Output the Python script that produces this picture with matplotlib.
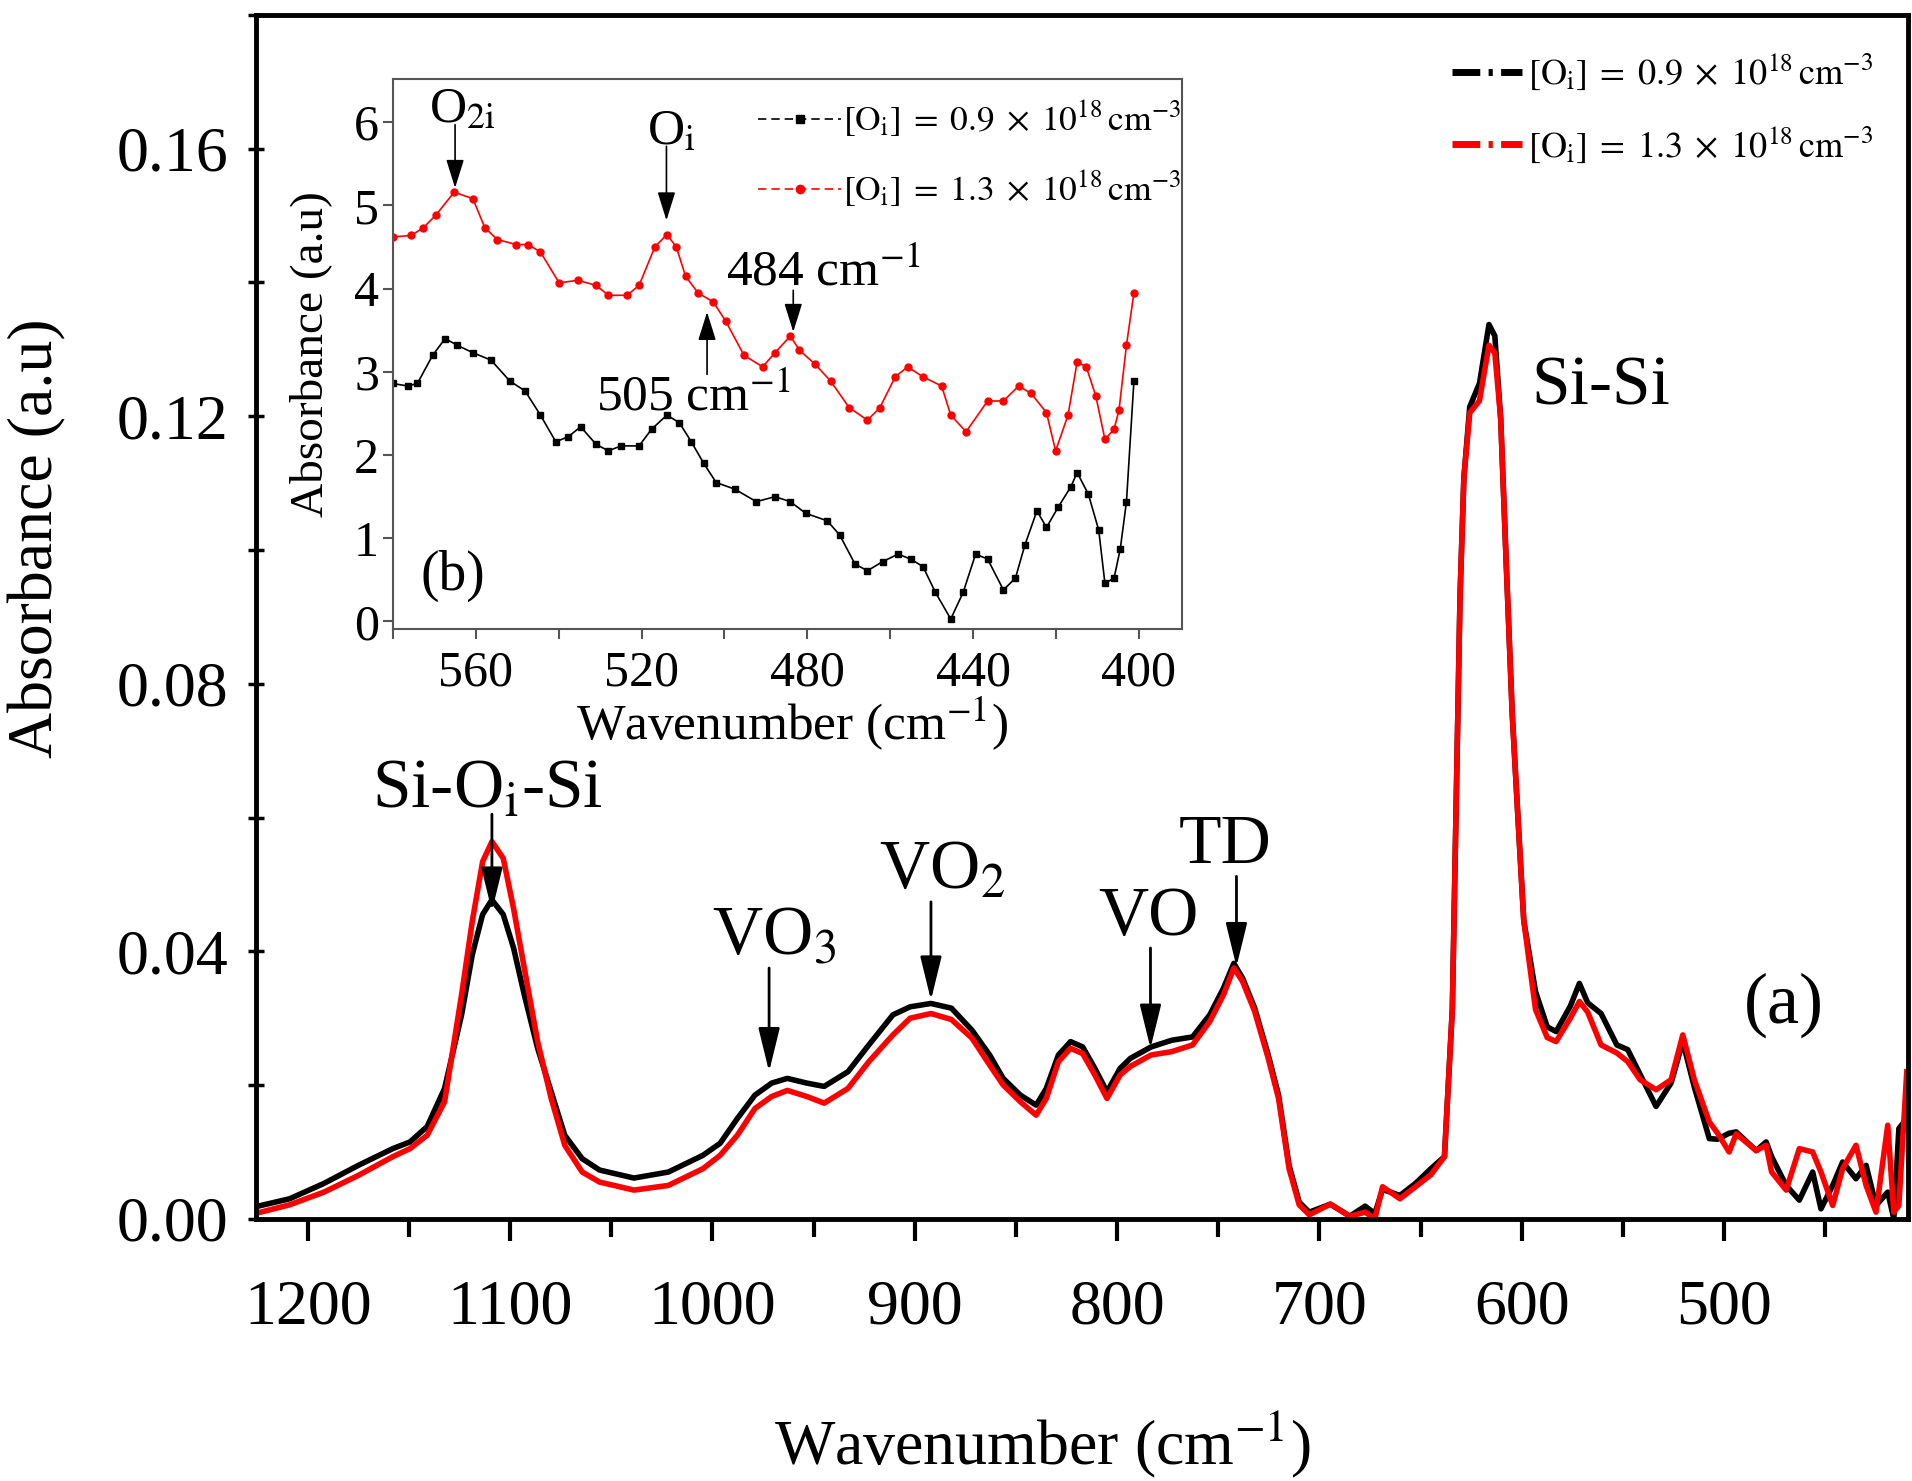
import numpy as np
import matplotlib.pyplot as plt
from matplotlib.lines import Line2D
from matplotlib.ticker import MultipleLocator, FormatStrFormatter

plt.rcParams['font.family'] = ['Liberation Serif', 'DejaVu Serif']
plt.rcParams['mathtext.fontset'] = 'stix'

# main spectrum (a): wavenumber (cm-1) and absorbance
wn = [1226, 1209, 1192, 1175, 1158, 1149.5, 1141, 1132.4, 1124, 1118.7, 1113.6, 1109,
      1103.4, 1098.3, 1093, 1086.4, 1079.7, 1073, 1064.4, 1055.8, 1038.8, 1021.8, 1004.7,
      996.2, 987.7, 979, 970.7, 963, 953.4, 944.8, 933, 922.7, 910.8, 902.3, 892, 881.9,
      871.7, 863, 856.3, 847.8, 840, 835, 829, 823, 817, 811, 805, 798.5, 793.4, 783.2,
      773, 762.7, 754.2, 747.4, 742.3, 738, 732, 725.3, 720.2, 715, 710, 705, 694.6, 685,
      677.4, 672.6, 668.8, 660.2, 652.5, 644.9, 638.2, 634.3, 632.4, 630.5, 628.6, 625.7,
      620.9, 616.2, 613.3, 610.4, 607.6, 604.7, 601.8, 599, 593.2, 587.4, 583, 576, 571.5,
      567.4, 560.8, 553, 547.6, 541.5, 533.6, 526.2, 520.4, 514.7, 507.3, 503.2, 497.5,
      494, 484.1, 479.2, 476.5, 469.3, 462.8, 456.2, 452.1, 446.3, 441.4, 434.8, 429.8,
      424.9, 419.1, 416.1, 413.6, 409.7]
abs_low = [0.0018, 0.0030, 0.0053, 0.0080, 0.0105, 0.0115, 0.0138, 0.0195, 0.0305, 0.0395,
           0.0455, 0.0477, 0.0455, 0.0405, 0.0335, 0.0255, 0.0190, 0.0125, 0.0090, 0.0073,
           0.0061, 0.0070, 0.0095, 0.0113, 0.0150, 0.0185, 0.0203, 0.0210, 0.0203, 0.0198,
           0.0220, 0.0260, 0.0305, 0.0317, 0.0322, 0.0315, 0.0282, 0.0245, 0.0210, 0.0185,
           0.0170, 0.0195, 0.0245, 0.0265, 0.0257, 0.0225, 0.0190, 0.0225, 0.0240, 0.0257,
           0.0267, 0.0272, 0.0305, 0.0345, 0.0382, 0.0360, 0.0315, 0.0245, 0.0185, 0.0080,
           0.0025, 0.0010, 0.0022, 0.0004, 0.0019, 0.0008, 0.0044, 0.0035, 0.0053, 0.0075,
           0.0093, 0.0314, 0.0622, 0.0931, 0.1108, 0.1214, 0.1249, 0.1337, 0.1320, 0.1196,
           0.0975, 0.0755, 0.0596, 0.0446, 0.0340, 0.0287, 0.0280, 0.0318, 0.0352, 0.0323,
           0.0307, 0.0260, 0.0253, 0.0216, 0.0168, 0.0203, 0.0265, 0.0197, 0.0120, 0.0119,
           0.0128, 0.0130, 0.0102, 0.0115, 0.0093, 0.0050, 0.0028, 0.0070, 0.0015, 0.0050,
           0.0085, 0.0060, 0.0080, 0.0020, 0.0040, 0.0000, 0.0135, 0.0150]
abs_high = [0.0008, 0.0021, 0.0040, 0.0065, 0.0093, 0.0105, 0.0125, 0.0175, 0.0335, 0.0445,
            0.0534, 0.0564, 0.0539, 0.0464, 0.0375, 0.0265, 0.0180, 0.0110, 0.0070, 0.0055,
            0.0043, 0.0050, 0.0075, 0.0095, 0.0125, 0.0165, 0.0183, 0.0192, 0.0183, 0.0173,
            0.0195, 0.0235, 0.0275, 0.0300, 0.0307, 0.0298, 0.0270, 0.0230, 0.0200, 0.0175,
            0.0155, 0.0180, 0.0235, 0.0255, 0.0247, 0.0215, 0.0180, 0.0215, 0.0228, 0.0245,
            0.0250, 0.0260, 0.0295, 0.0335, 0.0375, 0.0355, 0.0310, 0.0240, 0.0180, 0.0075,
            0.0021, 0.0006, 0.0022, 0.0004, 0.0010, 0.0000, 0.0048, 0.0030, 0.0048, 0.0066,
            0.0093, 0.0314, 0.0622, 0.0931, 0.1108, 0.1205, 0.1223, 0.1306, 0.1294, 0.1196,
            0.0975, 0.0755, 0.0596, 0.0446, 0.0313, 0.0271, 0.0265, 0.0300, 0.0325, 0.0309,
            0.0260, 0.0248, 0.0235, 0.0208, 0.0193, 0.0208, 0.0275, 0.0208, 0.0145, 0.0128,
            0.0100, 0.0127, 0.0102, 0.0110, 0.0070, 0.0043, 0.0105, 0.0100, 0.0070, 0.0020,
            0.0075, 0.0110, 0.0050, 0.0010, 0.0140, 0.0010, 0.0020, 0.0220]

# inset (b)
wn_b_red = [580.1, 575.6, 572.7, 569.7, 565.2, 560.7, 557.8, 554.8, 550.3, 547.4, 544.4,
            539.9, 535.4, 531, 528, 523.5, 520.6, 516.8, 513.9, 511.6, 509.4, 506.4, 502.7,
            499.7, 495.3, 490.8, 487.8, 484.1, 481.9, 478.1, 474.4, 469.9, 465.5, 462.5,
            458.8, 455.8, 452.1, 447.6, 445.4, 441.7, 436.5, 432.7, 429, 426, 422.3, 420.1,
            417.1, 414.9, 412.7, 410.4, 408.2, 406, 404.8, 403, 401.2]
ab_b_red = [4.62, 4.64, 4.73, 4.88, 5.16, 5.08, 4.73, 4.59, 4.53, 4.53, 4.44, 4.07, 4.10,
            4.04, 3.92, 3.92, 4.04, 4.50, 4.65, 4.50, 4.15, 3.95, 3.84, 3.61, 3.20, 3.06,
            3.23, 3.43, 3.26, 3.09, 2.89, 2.57, 2.42, 2.57, 2.94, 3.06, 2.94, 2.83, 2.48,
            2.28, 2.65, 2.65, 2.83, 2.74, 2.51, 2.05, 2.48, 3.12, 3.06, 2.71, 2.19, 2.31,
            2.54, 3.32, 3.95]
wn_b_blk = [580.1, 576.4, 574.1, 570.4, 567.4, 564.5, 560.7, 556.3, 551.8, 548.1, 544.4,
            540.7, 537.7, 534.7, 531, 528, 525, 520.6, 517.6, 513.9, 510.9, 508, 505, 502,
            497.5, 492.3, 487.8, 484.1, 480.4, 475.2, 472.2, 468.5, 465.5, 461.8, 458.1,
            455.1, 452.1, 449.1, 445.4, 442.4, 439.4, 436.5, 432.7, 429.8, 427.5, 424.6,
            422.3, 419.4, 416.4, 414.9, 412.2, 409.7, 408.2, 406, 404.5, 403, 401.2]
ab_b_blk = [2.86, 2.83, 2.86, 3.20, 3.40, 3.32, 3.23, 3.14, 2.89, 2.77, 2.48, 2.16, 2.22,
            2.34, 2.13, 2.05, 2.11, 2.11, 2.31, 2.48, 2.39, 2.16, 1.90, 1.67, 1.59, 1.44,
            1.50, 1.44, 1.30, 1.21, 1.04, 0.69, 0.61, 0.72, 0.81, 0.75, 0.66, 0.35, 0.03,
            0.35, 0.81, 0.75, 0.38, 0.52, 0.92, 1.33, 1.13, 1.38, 1.62, 1.79, 1.53, 1.10,
            0.46, 0.52, 0.87, 1.44, 2.89]

lab_low = r'$[\mathrm{O_i}]\;=\;0.9\;\times\;10^{18}\,\mathrm{cm^{-3}}$'
lab_high = r'$[\mathrm{O_i}]\;=\;1.3\;\times\;10^{18}\,\mathrm{cm^{-3}}$'

fig = plt.figure(figsize=(19.12, 14.81), dpi=100)
ax = fig.add_axes([0.134, 0.177, 0.864, 0.813])

ax.plot(wn, abs_low, color='black', lw=4)
ax.plot(wn, abs_high, color='red', lw=4)

ax.set_xlim(1225.5, 409)
ax.set_ylim(0, 0.18)
ax.xaxis.set_major_locator(MultipleLocator(100))
ax.xaxis.set_minor_locator(MultipleLocator(50))
ax.yaxis.set_major_locator(MultipleLocator(0.04))
ax.yaxis.set_minor_locator(MultipleLocator(0.02))
ax.yaxis.set_major_formatter(FormatStrFormatter('%.2f'))
for s in ax.spines.values():
    s.set_linewidth(3.5)
ax.tick_params(axis='x', which='major', direction='out', length=16, width=3, pad=28, labelsize=46)
ax.tick_params(axis='x', which='minor', direction='out', length=13, width=3)
ax.tick_params(axis='y', which='both', direction='inout', length=12, width=2.5, pad=14, labelsize=46)

ax.set_xlabel('Wavenumber (cm$^{-1}$)', fontsize=46)
ax.xaxis.set_label_coords(0.476, -0.188)
ax.xaxis.label.set_va('center')
ax.set_ylabel('Absorbance (a.u)', fontsize=46)
ax.yaxis.set_label_coords(-0.1326, 0.565)
ax.yaxis.label.set_va('center')

arrow_main = dict(arrowstyle='-|>,head_length=0.9,head_width=0.22', color='black', lw=2, mutation_scale=30,
                  shrinkA=0, shrinkB=0)
ax.text(1111, 0.0615, r'Si-O$_\mathrm{i}$-Si', fontsize=50, ha='center', va='baseline')
ax.annotate('', xy=(1109, 0.046), xytext=(1109, 0.0605), arrowprops=arrow_main)
ax.text(1000, 0.0395, r'VO$_3$', fontsize=50, ha='left', va='baseline')
ax.annotate('', xy=(972, 0.022), xytext=(972, 0.0375), arrowprops=arrow_main)
ax.text(917.5, 0.0494, r'VO$_2$', fontsize=50, ha='left', va='baseline')
ax.annotate('', xy=(892, 0.0327), xytext=(892, 0.0474), arrowprops=arrow_main)
ax.text(809.5, 0.0425, 'VO', fontsize=50, ha='left', va='baseline')
ax.annotate('', xy=(783.5, 0.0255), xytext=(783.5, 0.0405), arrowprops=arrow_main)
ax.text(769.5, 0.0532, 'TD', fontsize=50, ha='left', va='baseline')
ax.annotate('', xy=(741, 0.0377), xytext=(741, 0.0512), arrowprops=arrow_main)
ax.text(595.3, 0.1218, 'Si-Si', fontsize=50, ha='left', va='baseline')
ax.text(490, 0.032, '(a)', fontsize=52, ha='left', va='center')

h_low = Line2D([], [], color='black', lw=5, linestyle=(0, (4, 1.2, 0.6, 1.2)))
h_high = Line2D([], [], color='red', lw=5, linestyle=(0, (4, 1.2, 0.6, 1.2)))
fig.legend([h_low, h_high], [lab_low, lab_high], loc='upper left',
           bbox_to_anchor=(0.7594, 0.9649), frameon=False, fontsize=26,
           handlelength=1.95, handletextpad=0.15, labelspacing=0.9,
           borderpad=0, borderaxespad=0)

# inset
axin = fig.add_axes([0.2055, 0.5753, 0.4127, 0.3714])
axin.plot(wn_b_blk, ab_b_blk, color='black', lw=1.2, marker='s', ms=5)
axin.plot(wn_b_red, ab_b_red, color='red', lw=1.2, marker='o', ms=5)
axin.set_xlim(580, 389.6)
axin.set_ylim(-0.09, 6.52)
axin.xaxis.set_major_locator(MultipleLocator(40))
axin.xaxis.set_minor_locator(MultipleLocator(20))
axin.yaxis.set_major_locator(MultipleLocator(1))
for s in axin.spines.values():
    s.set_linewidth(1.5)
    s.set_color('#555555')
axin.tick_params(axis='both', which='both', direction='out', length=7, width=1.5,
                 color='#555555', labelsize=36)
axin.tick_params(axis='x', pad=8)
axin.tick_params(axis='y', pad=3)
axin.set_xlabel('Wavenumber (cm$^{-1}$)', fontsize=37)
axin.xaxis.set_label_coords(0.506, -0.172)
axin.xaxis.label.set_va('center')
axin.set_ylabel('Absorbance (a.u)', fontsize=34)
axin.yaxis.set_label_coords(-0.104, 0.50)
axin.yaxis.label.set_va('center')

arrow_in = dict(arrowstyle='-|>,head_length=0.8,head_width=0.25', color='black', lw=1.2,
                mutation_scale=22, shrinkA=0, shrinkB=0)
axin.text(571.2, 6.0, r'O$_\mathrm{2i}$', fontsize=37, ha='left', va='baseline')
axin.annotate('', xy=(565, 5.21), xytext=(565, 5.97), arrowprops=arrow_in)
axin.text(518.8, 5.74, r'O$_\mathrm{i}$', fontsize=37, ha='left', va='baseline')
axin.annotate('', xy=(514, 4.82), xytext=(514, 5.71), arrowprops=arrow_in)
axin.text(499.7, 4.04, '484 cm$^{-1}$', fontsize=37, ha='left', va='baseline')
axin.annotate('', xy=(483.4, 3.48), xytext=(483.4, 3.98), arrowprops=arrow_in)
axin.text(531, 2.54, '505 cm$^{-1}$', fontsize=37, ha='left', va='baseline')
axin.annotate('', xy=(504.2, 3.72), xytext=(504.2, 2.97), arrowprops=arrow_in)
axin.text(573.4, 0.55, '(b)', fontsize=40, ha='left', va='center')

hb_low = Line2D([], [], color='black', lw=1.2, linestyle=(0, (5, 3)), marker='s', ms=6)
hb_high = Line2D([], [], color='red', lw=1.2, linestyle=(0, (5, 3)), marker='o', ms=6)
fig.legend([hb_low, hb_high], [lab_low, lab_high], loc='upper left',
           bbox_to_anchor=(0.3965, 0.9332), frameon=False, fontsize=25.5,
           handlelength=2.35, handletextpad=0.05, labelspacing=0.8,
           borderpad=0, borderaxespad=0)

fig.savefig('out.png', dpi=100)
